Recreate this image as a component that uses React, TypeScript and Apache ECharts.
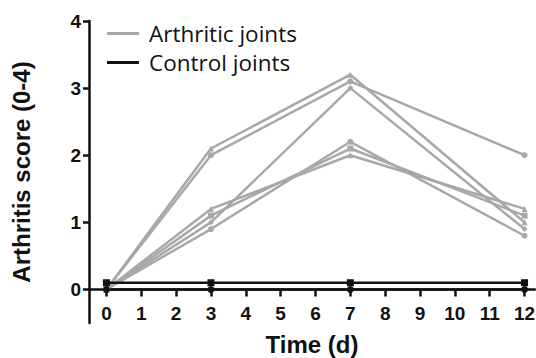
import React, { useEffect, useRef } from "react";
import * as echarts from "echarts";

const days = [0, 3, 7, 12];
const arthritic1 = [0, 2.1, 3.2, 1.0];
const arthritic2 = [0, 2.0, 3.1, 2.0];
const arthritic3 = [0, 1.0, 3.0, 0.9];
const arthritic4 = [0, 1.2, 2.0, 1.2];
const arthritic5 = [0, 1.1, 2.1, 1.1];
const arthritic6 = [0, 0.9, 2.2, 0.8];
const control1 = [0.1, 0.1, 0.1, 0.1];
const control2 = [0, 0, 0, 0];
const xTicks = [0, 1, 2, 3, 4, 5, 6, 7, 8, 9, 10, 11, 12];
const yTicks = [0, 1, 2, 3, 4];

const GRAY = "#a8a8a8";
const BLACK = "#111111";

export default function App() {
  const ref = useRef<HTMLDivElement>(null);
  useEffect(() => {
    const chart = echarts.init(ref.current!, null, { renderer: "svg" });
    const pairs = (v: number[]) => days.map((d, i) => [d, v[i]]);
    const arth = [
      { v: arthritic1, s: "triangle" },
      { v: arthritic2, s: "circle" },
      { v: arthritic3, s: "diamond" },
      { v: arthritic4, s: "triangle" },
      { v: arthritic5, s: "rect" },
      { v: arthritic6, s: "circle" },
    ];
    const series: any[] = arth.map((a) => ({
      type: "line",
      name: "Arthritic joints",
      data: pairs(a.v),
      symbol: a.s,
      symbolSize: 6,
      showSymbol: true,
      lineStyle: { color: GRAY, width: 2.5 },
      itemStyle: { color: GRAY },
    }));
    series.push(
      {
        type: "line",
        name: "Control joints",
        data: pairs(control1),
        symbol: "rect",
        symbolSize: 7,
        lineStyle: { color: BLACK, width: 2.5 },
        itemStyle: { color: BLACK },
        z: 3,
      },
      {
        type: "line",
        name: "Control joints",
        data: pairs(control2),
        symbol: "circle",
        symbolSize: 7,
        lineStyle: { color: BLACK, width: 2.5 },
        itemStyle: { color: BLACK },
        z: 3,
      }
    );
    chart.setOption({
      animation: false,
      grid: { left: 89, top: 21, right: 1, bottom: 35, containLabel: false, outerBoundsMode: "none" },
      legend: {
        left: 102,
        top: 14,
        orient: "vertical",
        itemGap: 0,
        itemWidth: 32,
        itemHeight: 3,
        icon: "rect",
        data: [
          { name: "Arthritic joints", itemStyle: { color: GRAY } },
          { name: "Control joints", itemStyle: { color: BLACK } },
        ],
        textStyle: {
          fontFamily: "Open Sans",
          fontSize: 22.5,
          color: "#111",
          lineHeight: 29,
          padding: [0, 0, 0, 5],
        },
      },
      xAxis: {
        type: "value",
        min: -0.5,
        max: 12.3,
        offset: -33.5,
        name: "Time (d)",
        nameLocation: "middle",
        nameGap: 43,
        nameTextStyle: { fontFamily: "Liberation Sans", fontWeight: "bold", fontSize: 24, color: "#111" },
        axisLine: { onZero: false, lineStyle: { color: BLACK, width: 2.5 } },
        axisTick: { show: true, customValues: xTicks, length: 7, lineStyle: { color: BLACK, width: 2.5 } },
        axisLabel: {
          customValues: xTicks,
          fontFamily: "Liberation Sans",
          fontWeight: "bold",
          fontSize: 19,
          color: "#111",
          margin: 14,
        },
        splitLine: { show: false },
      },
      yAxis: {
        type: "value",
        min: -0.5,
        max: 4,
        name: "Arthritis score (0-4)",
        nameLocation: "middle",
        nameGap: 56,
        nameTextStyle: { fontFamily: "Liberation Sans", fontWeight: "bold", fontSize: 24, color: "#111" },
        axisLine: { show: true, onZero: false, lineStyle: { color: BLACK, width: 2.5 } },
        axisTick: { show: true, customValues: yTicks, length: 6, lineStyle: { color: BLACK, width: 2.5 } },
        axisLabel: {
          customValues: yTicks,
          fontFamily: "Liberation Sans",
          fontWeight: "bold",
          fontSize: 19,
          color: "#111",
          margin: 8,
        },
        splitLine: { show: false },
      },
      series,
    });
    return () => chart.dispose();
  }, []);
  return <div ref={ref} style={{ width: 536, height: 358, position: "absolute", left: 0, top: 0 }} />;
}
